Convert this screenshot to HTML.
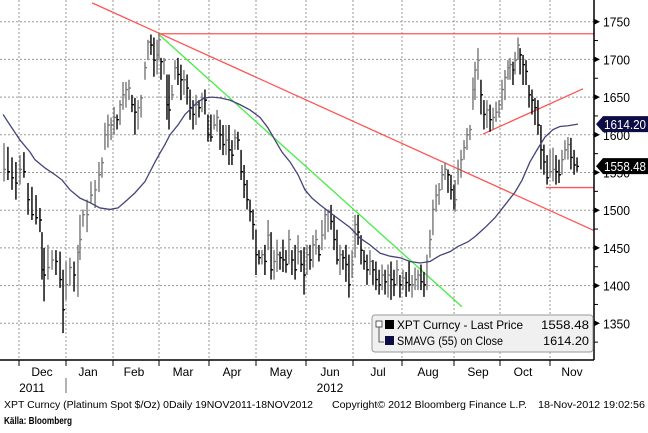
<!DOCTYPE html>
<html><head><meta charset="utf-8"><style>
body{margin:0;background:#fff;}
svg text{font-family:"Liberation Sans Narrow","Liberation Sans",sans-serif;}
</style></head><body>
<svg width="648" height="428" viewBox="0 0 648 428" xmlns="http://www.w3.org/2000/svg">
<g id="grid"></g>
<g id="lines"></g>
<g id="bars"></g>
<g id="sma"></g>
<g id="axes"></g>
<g>
 <rect x="372" y="315" width="221" height="37" rx="3" fill="#f0f0f0" stroke="#999"/>
 <rect x="376" y="321" width="6" height="6" fill="#fff" stroke="#333" stroke-width="0.8"/>
 <path d="M379 327 V342 H384" fill="none" stroke="#333" stroke-width="0.8"/>
 <rect x="385" y="320" width="9" height="9" fill="#000"/>
 <rect x="385" y="336" width="9" height="9" fill="#0d0d45"/>
 <text x="397" y="329" font-size="12" textLength="126" lengthAdjust="spacingAndGlyphs">XPT Curncy - Last Price</text>
 <text x="541" y="329" font-size="12" textLength="48" lengthAdjust="spacingAndGlyphs">1558.48</text>
 <text x="397" y="345" font-size="12" textLength="106" lengthAdjust="spacingAndGlyphs">SMAVG (55) on Close</text>
 <text x="543" y="345" font-size="12" textLength="46" lengthAdjust="spacingAndGlyphs">1614.20</text>
</g>
<g font-size="10">
 <text x="4" y="408" textLength="309" lengthAdjust="spacingAndGlyphs">XPT Curncy (Platinum Spot  $/Oz) 0Daily 19NOV2011-18NOV2012</text>
 <text x="332" y="408" textLength="195" lengthAdjust="spacingAndGlyphs">Copyright© 2012 Bloomberg Finance L.P.</text>
 <text x="538" y="408" textLength="107" lengthAdjust="spacingAndGlyphs">18-Nov-2012 19:02:56</text>
 <text x="4" y="424" font-weight="bold" textLength="68" lengthAdjust="spacingAndGlyphs">Källa: Bloomberg</text>
</g>
</svg>
<script>
const barDay=[0,2.5,5.1,7.6,10.2,12.7,15.3,17.8,20.4,22.9,24.2,25.5,28,30.6,33.1,35.7,37.6,39.5,42,44.6,47.1,48.4,50.3,52.9,55.4,58,60.5,62.4,64.3,66.2,68.2,70.1,72,73.9,75.8,77.7,79.6,81.5,83.4,85.4,87.3,89.8,91.7,93.6,95.5,97.5,98.7,100,101.9,103.8,105.1,107,108.9,110.8,112.7,114.6,116.6,118.5,120.4,122.3,124.2,126.1,128,129.9,131.8,133.8,135.7,137.6,139.5,141.4,143.3,145.2,147.1,149,151,152.9,154.8,156.7,158.6,160.5,162.4,164.3,166.2,168.2,170.1,172,173.9,175.8,177.7,179.6,181.5,183.4,185.4,187.3,189.2,191.1,193,194.9,196.8,198.7,200.6,202.5,204.5,206.4,208.3,210.2,212.1,214,215.9,217.8,219.7,221.7,223.6,225.5,227.4,229.3,231.2,233.1,235,236.9,238.9,240.8,242.7,244.6,246.5,248.4,250.3,252.2,254.1,256.1,258,259.9,261.8,263.7,265.6,267.5,269.4,271.3,273.2,275.2,277.1,279,280.9,282.8,284.7,286.6,287.3,289.2,291.1,293,294.9,296.8,298.7,300,301.9,303.8,305.7,307.6,309.6,311.5,313.4,315.3,317.2,319.1,321,322.3,324.2,325.5,327.4,328.7,330.6,332.5,334.4,336.3,338.2,340.1,342,343.9,345.9,347.8,349.7,351.6,353.5,355.4,357.3,359.2,361.1,363.1,365];
const highs=[1589,1584,1570,1564,1573,1577,1536,1531,1520,1503,1471,1450,1454,1447,1447,1445,1421,1432,1437,1432,1454,1494,1501,1514,1538,1540,1564,1570,1616,1627,1623,1637,1627,1646,1670,1670,1673,1653,1649,1646,1653,1697,1726,1733,1729,1726,1735,1702,1702,1680,1680,1666,1699,1702,1693,1686,1680,1660,1646,1653,1646,1656,1660,1627,1627,1627,1633,1620,1613,1613,1613,1593,1607,1604,1580,1560,1540,1514,1501,1474,1447,1447,1454,1487,1471,1447,1461,1445,1461,1447,1474,1447,1454,1467,1447,1451,1454,1454,1467,1474,1454,1487,1501,1501,1507,1494,1474,1454,1447,1454,1441,1447,1494,1494,1467,1447,1441,1447,1434,1432,1421,1428,1421,1428,1432,1421,1434,1414,1421,1418,1432,1414,1424,1421,1428,1418,1441,1474,1514,1534,1536,1560,1563,1554,1547,1534,1540,1567,1580,1593,1609,1613,1676,1697,1715,1673,1646,1646,1640,1636,1644,1646,1673,1686,1699,1702,1697,1710,1729,1715,1706,1699,1666,1660,1649,1646,1613,1587,1573,1580,1583,1573,1567,1580,1593,1597,1596,1580,1570];
const lows=[1538,1540,1527,1514,1534,1543,1494,1487,1481,1471,1408,1379,1408,1421,1414,1397,1337,1381,1400,1392,1385,1434,1478,1471,1510,1503,1524,1543,1580,1583,1593,1600,1607,1613,1633,1636,1646,1630,1600,1607,1623,1673,1699,1706,1677,1680,1699,1673,1680,1620,1607,1646,1673,1666,1646,1653,1640,1620,1607,1613,1623,1630,1627,1591,1591,1607,1604,1580,1573,1573,1560,1560,1580,1580,1540,1516,1501,1485,1461,1414,1428,1428,1414,1447,1408,1408,1418,1421,1418,1417,1428,1414,1408,1428,1418,1388,1414,1421,1424,1441,1432,1447,1461,1471,1474,1447,1428,1414,1421,1405,1384,1410,1437,1454,1428,1421,1401,1414,1401,1394,1388,1394,1388,1384,1381,1386,1401,1384,1394,1385,1392,1384,1394,1394,1394,1385,1394,1437,1467,1498,1507,1527,1540,1523,1514,1501,1498,1534,1543,1567,1580,1593,1633,1646,1673,1627,1607,1609,1604,1607,1617,1623,1633,1646,1673,1673,1666,1680,1699,1680,1666,1666,1636,1627,1613,1600,1554,1547,1534,1543,1538,1534,1536,1547,1567,1567,1554,1547,1551];
const closes=[1554,1551,1543,1536,1554,1551,1514,1494,1490,1487,1421,1414,1424,1434,1432,1408,1368,1401,1424,1414,1444,1461,1494,1494,1520,1527,1547,1563,1600,1613,1613,1623,1620,1640,1653,1660,1662,1640,1630,1636,1649,1689,1723,1719,1699,1706,1726,1697,1699,1640,1633,1653,1689,1680,1673,1673,1662,1636,1627,1640,1636,1649,1646,1600,1597,1613,1623,1600,1587,1593,1580,1573,1596,1593,1551,1534,1514,1498,1481,1441,1437,1441,1432,1467,1421,1432,1441,1437,1434,1428,1461,1434,1421,1445,1428,1414,1441,1434,1454,1461,1441,1467,1494,1498,1485,1461,1434,1441,1437,1428,1401,1428,1481,1471,1447,1432,1421,1432,1421,1408,1401,1414,1405,1414,1408,1401,1421,1401,1410,1404,1401,1401,1408,1414,1405,1401,1432,1461,1501,1520,1527,1547,1554,1547,1527,1507,1514,1554,1567,1583,1600,1607,1660,1686,1699,1653,1627,1633,1620,1623,1630,1640,1660,1676,1689,1693,1686,1699,1719,1706,1693,1684,1653,1646,1636,1613,1580,1564,1543,1551,1554,1551,1547,1567,1580,1587,1570,1560,1558];
const smaDay=[-0.6,3.8,10.2,16.6,19.7,26.1,32.5,37,42,48.4,54.8,61.1,67.5,72.6,77.1,83.4,89.8,93,96.2,99.4,102.5,105.7,110.8,115.3,119.7,123.6,128,132.5,137.6,143.9,150.3,156.7,163.1,168.2,172.6,177.1,182.2,187.3,191.7,196.2,201.3,207.6,214,220.4,226.8,233.1,239.5,245.9,252.2,258.6,265,271.3,277.7,284.1,289.2,295.5,300,306.4,312.7,319.1,325.5,330,335,339.5,344.6,349.7,354.1,359.2,365.6];
const smaVal=[1627,1613,1593,1577,1567,1556,1547,1540,1527,1516,1510,1503,1501,1503,1511,1523,1538,1551,1564,1576,1587,1600,1613,1627,1636,1644,1649,1650,1649,1646,1640,1633,1623,1609,1593,1577,1564,1547,1527,1516,1507,1497,1487,1477,1463,1454,1443,1439,1437,1432,1430,1432,1440,1445,1452,1458,1465,1477,1490,1507,1524,1540,1564,1580,1597,1607,1611,1612,1614.2];
const yTicks=[1750,1700,1650,1600,1550,1500,1450,1400,1350];
const months=["Dec","Jan","Feb","Mar","Apr","May","Jun","Jul","Aug","Sep","Oct","Nov"];
const monthCenters=[42,88,134,183,232,281,330,378,428,478,523,572];
const monthBounds=[19,66,113,159,209,256,306,353,402,454,500,550];
const trendLines=[[98.7,1734,375.8,1734,"#ff5555"],[56.1,1775,375.8,1473,"#ff5555"],[98.7,1733,291.7,1372,"#44ee44"],[305.1,1601,368.8,1661,"#ff5555"],[345.2,1530,375.8,1530,"#ff5555"]];
const NS="http://www.w3.org/2000/svg";
const X=d=>4+d*1.57;
const Y=p=>21.7+(1750-p)*0.754;
function mk(tag,attrs,parent){const e=document.createElementNS(NS,tag);for(const k in attrs)e.setAttribute(k,attrs[k]);parent.appendChild(e);return e;}
const grid=document.getElementById('grid'),axes=document.getElementById('axes');
yTicks.forEach(v=>{
 const l=mk('line',{x1:0,x2:594,y1:Y(v),y2:Y(v),stroke:'#999','stroke-dasharray':'2,2','stroke-width':1},grid);
 
 
 const t=mk('path',{d:`M594 ${Y(v)-3} L600 ${Y(v)} L594 ${Y(v)+3}Z`,fill:'#000'},axes);
 
 
 const m=mk('line',{x1:594,x2:598,y1:Y(v-25),y2:Y(v-25),stroke:'#000'},axes);
 
 
 const tx=mk('text',{x:603,y:Y(v)+5,'font-size':13,textLength:27,lengthAdjust:'spacingAndGlyphs'},axes);tx.textContent=v;
 
 
});
monthBounds.forEach(x=>{
 const l=mk('line',{x1:x,x2:x,y1:0,y2:360,stroke:'#999','stroke-dasharray':'2,2'},grid);
 
 
 const t=mk('line',{x1:x,x2:x,y1:360,y2:366,stroke:'#000'},axes);
 
 
});
months.forEach((m,i)=>{
 const t=mk('text',{x:monthCenters[i],y:376,'font-size':12,'text-anchor':'middle'},axes);t.textContent=m;
 
 
});
[[32,"2011"],[330,"2012"]].forEach(([x,s])=>{
 const t=mk('text',{x:x,y:392,'font-size':12,'text-anchor':'middle'},axes);t.textContent=s;
 
 
});
mk('line',{x1:66,x2:66,y1:378,y2:393,stroke:'#666'},axes);
mk('line',{x1:0,x2:594,y1:360,y2:360,stroke:'#000','stroke-width':1.5},axes);
mk('line',{x1:594,x2:594,y1:0,y2:360,stroke:'#000','stroke-width':1.5},axes);
const lines=document.getElementById('lines');
trendLines.forEach(t=>{
 const l=mk('line',{x1:X(t[0]),y1:Y(t[1]),x2:X(t[2]),y2:Y(t[3]),stroke:t[4],'stroke-width':1.3},lines);
 
 
});
const bars=document.getElementById('bars');
closes.forEach((c,i)=>{
 const x=X(barDay[i]),col=(i>0&&c<closes[i-1])?'#000':'#777';
 const g=mk('path',{d:`M${x} ${Y(highs[i])} V${Y(lows[i])} M${x} ${Y(c)} H${x+2}`,stroke:col,'stroke-width':1.4,fill:'none'},bars);
 
 
});
const sma=document.getElementById('sma');
const sp=mk('path',{d:smaDay.map((k,i)=>(i?'L':'M')+X(k)+' '+Y(smaVal[i])).join(' '),fill:'none',stroke:'#44447a','stroke-width':1.3},sma);


function tag(v,fill,name){
 const y=Y(v);
 const p=mk('path',{d:`M596 ${y} L603 ${y-8} H648 V${y+8} H603Z`,fill:fill},axes);
 
 
 const t=mk('text',{x:604,y:y+5,'font-size':13,fill:'#fff',textLength:42,lengthAdjust:'spacingAndGlyphs'},axes);t.textContent=v.toFixed(2);
 
 
}
tag(smaVal[smaVal.length-1],'#0d0d45','sma-value-tag');
tag(closes[closes.length-1]+0.48,'#000','last-price-tag');
</script>
</body></html>
